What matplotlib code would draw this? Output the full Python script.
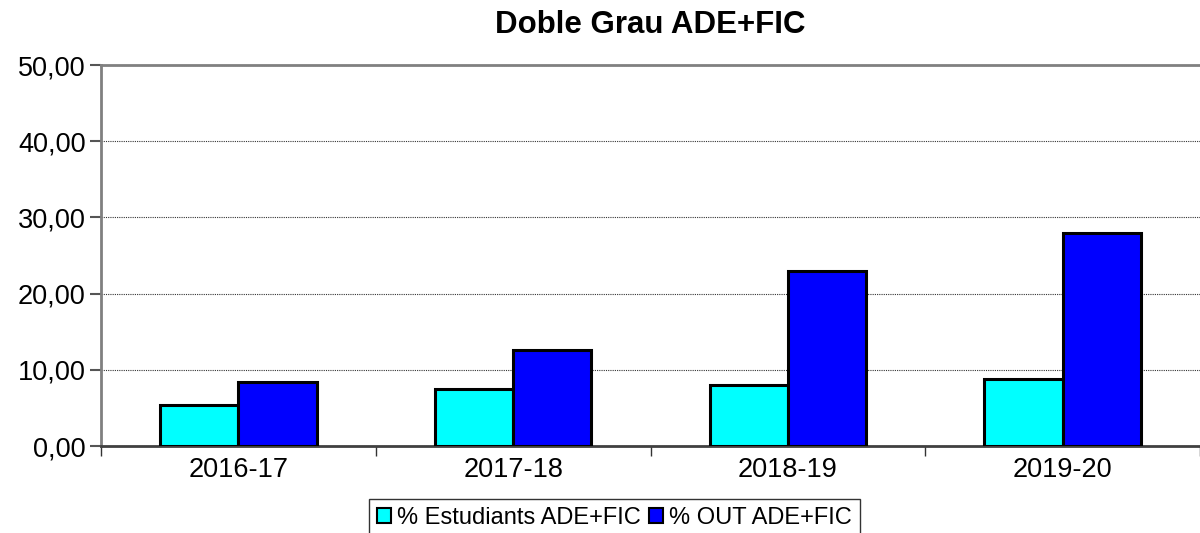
import matplotlib.pyplot as plt
import numpy as np
from matplotlib.ticker import FuncFormatter

plt.rcParams['font.family'] = ['Liberation Sans', 'DejaVu Sans']

# Data
cursos = ['2016-17', '2017-18', '2018-19', '2019-20']
estudiants = [5.35, 7.5, 8.0, 8.85]
out = [8.4, 12.6, 23.0, 27.9]

fig = plt.figure(figsize=(12, 5.33), dpi=100)
ax = fig.add_axes([0.0842, 0.163, 0.9158, 0.715])

x = np.arange(len(cursos))
w = 0.285
ax.bar(x - w / 2, estudiants, w, color='#00FFFF', edgecolor='black', linewidth=2.2,
       label='% Estudiants ADE+FIC', zorder=3)
ax.bar(x + w / 2, out, w, color='#0000FF', edgecolor='black', linewidth=2.2,
       label='% OUT ADE+FIC', zorder=3)

ax.set_xlim(-0.5, len(cursos) - 0.5)
ax.set_ylim(0, 50)
ax.set_yticks(np.arange(0, 51, 10))
ax.yaxis.set_major_formatter(FuncFormatter(lambda v, p: f'{v:.2f}'.replace('.', ',')))
ax.set_xticks(x)
ax.set_xticklabels(cursos)
ax.set_xticks(np.arange(-0.5, len(cursos)), minor=True)
ax.tick_params(axis='x', which='major', length=0, labelsize=19.5, pad=8)
ax.tick_params(axis='x', which='minor', length=7, width=1, color='#333333')
ax.tick_params(axis='y', length=8, width=1.5, color='#555555', labelsize=19.5, pad=3)

ax.yaxis.grid(True, color='#333333', linestyle=(0, (1, 1)), linewidth=0.8, zorder=0)
for s in ['top', 'left']:
    ax.spines[s].set_color('#808080')
    ax.spines[s].set_linewidth(2)
ax.spines['bottom'].set_color('#404040')
ax.spines['bottom'].set_linewidth(2)
ax.spines['right'].set_visible(False)

fig.text(0.542, 0.953, 'Doble Grau ADE+FIC', ha='center', va='center',
         fontsize=22.5, fontweight='bold')

leg = fig.legend(loc='upper center', bbox_to_anchor=(0.512, 0.064), ncol=2,
                 fontsize=17, frameon=True, fancybox=False, edgecolor='black',
                 handlelength=0.6, handleheight=0.6, handletextpad=0.25,
                 columnspacing=0.35, borderpad=0.35, borderaxespad=0)
leg.get_frame().set_linewidth(1)
for h in leg.legend_handles:
    h.set_linewidth(1.5)

fig.savefig('out.png', dpi=100)
